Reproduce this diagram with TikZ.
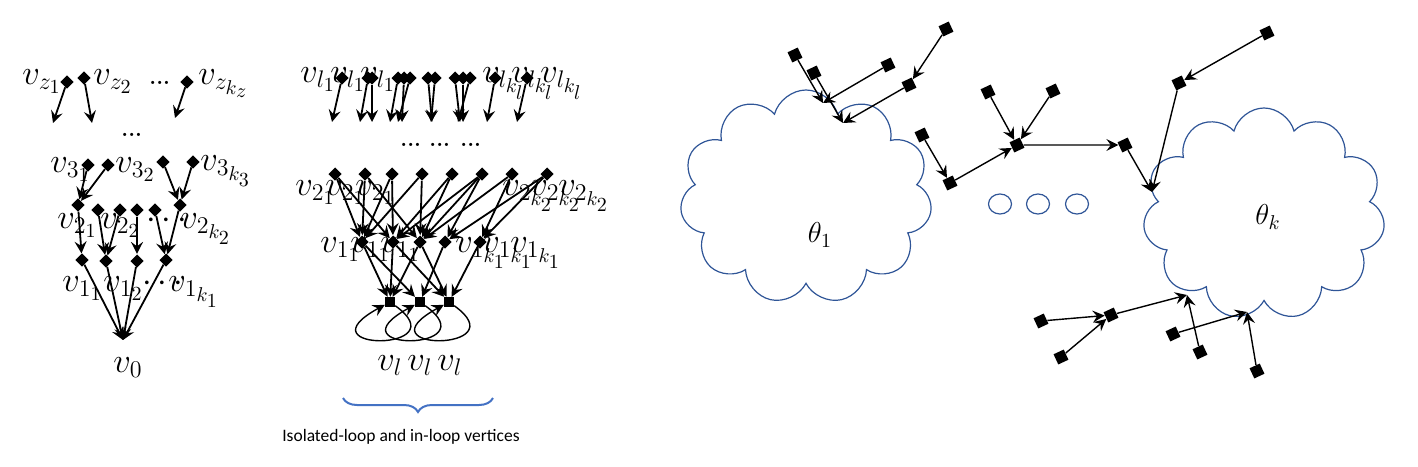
\documentclass[tikz,border=0pt]{standalone}
\usepackage{fontspec}
\newfontfamily\capfont{Carlito}
\usetikzlibrary{arrows.meta,shapes.symbols,decorations.pathreplacing}
\definecolor{cloudblue}{HTML}{2F5597}
\definecolor{braceblue}{HTML}{4472C4}

\tikzset{
  dm/.style={fill=black,minimum size=4.6pt,inner sep=0pt,rotate=45},
  sq/.style={fill=black,minimum size=5.6pt,inner sep=0pt,rotate=25},
  lsq/.style={fill=black,minimum size=4.8pt,inner sep=0pt},
  arr/.style={-{Stealth[length=6pt,width=6pt,inset=2.2pt]},line width=0.9pt},
  arrs/.style={-{Stealth[length=6pt,width=6pt,inset=2.2pt]},line width=0.7pt},
  lbl/.style={anchor=base west,inner sep=0pt,font=\fontsize{17.28}{20}\selectfont},
  dots/.style={anchor=base west,inner sep=0pt,font=\bfseries\fontsize{11}{13}\selectfont},
  puff/.style={cloud,cloud puffs=11,cloud ignores aspect,draw=cloudblue,line width=0.6pt}
}

\begin{document}
\begin{tikzpicture}[x=0.5pt,y=-0.5pt]
\useasboundingbox (0,0) rectangle (1418,466);

% left tree
\node[dm] (z1) at (67,82) {};
\node[dm] (z2) at (84,78) {};
\node[dm] (zk) at (187,82) {};
\coordinate (z1e) at (53,123);
\coordinate (z2e) at (92,123);
\coordinate (zke) at (175,118);
\draw[arr] (z1) -- (z1e);
\draw[arr] (z2) -- (z2e);
\draw[arr] (zk) -- (zke);
\foreach \i/\x/\y in {1/88/165, 2/108/165, 3/163/162, 4/193/162}
  \node[dm] (a\i) at (\x,\y) {};
\foreach \i/\x/\y in {1/78/205, 2/98/210, 3/120/210, 4/137/210, 5/155/210, 6/180/205}
  \node[dm] (b\i) at (\x,\y) {};
\foreach \i/\x/\y in {1/82/260, 2/106/261, 3/137/261, 4/166/260}
  \node[dm] (c\i) at (\x,\y) {};
\coordinate (v0) at (123,340);
\foreach \a/\b in {1/1, 2/1, 3/6, 4/6}
  \draw[arr] (a\a) -- (b\b);
\foreach \a/\b in {1/1, 2/2, 3/2, 4/3, 5/4, 6/4}
  \draw[arr] (b\a) -- (c\b);
\foreach \a in {1,...,4}
  \draw[arr] (c\a) -- (v0);

\node[lbl] (lz1) at (22,84) {$v_{z_1}$};
\node[lbl] (lz2) at (93,84) {$v_{z_2}$};
\node[dots] (lzd) at (149,84) {...};
\node[lbl] (lzk) at (198,84) {$v_{z_{k_z}}$};
\node[dots] (ld) at (121,136) {...};
\node[lbl] (l31) at (50,172) {$v_{3_1}$};
\node[lbl] (l32) at (115,172) {$v_{3_2}$};
\node[lbl] (l3k) at (200,170) {$v_{3_{k_3}}$};
\node[lbl] (l21) at (57,228) {$v_{2_1}$};
\node[lbl] (l22) at (100,228) {$v_{2_2}$};
\node[lbl] (l2d) at (146,228) {$\cdots$};
\node[lbl] (l2k) at (180,228) {$v_{2_{k_2}}$};
\node[lbl] (l11) at (62,291) {$v_{1_1}$};
\node[lbl] (l12) at (103,291) {$v_{1_2}$};
\node[lbl] (l1d) at (142,291) {$\cdots$};
\node[lbl] (l1k) at (168,291) {$v_{1_{k_1}}$};
\node[lbl] (lv0) at (113,372) {$v_0$};

% middle tree
\foreach \i/\x/\e in {1/342/332, 2/368/360, 3/372/372, 4/398/390, 5/404/402, 6/410/398,
    7/428/432, 8/435/431, 9/455/460, 10/463/463, 11/470/458, 12/495/487, 13/527/517}{
  \node[dm] (m\i) at (\x,78) {};
  \coordinate (me\i) at (\e,122);
  \draw[arr] (m\i) -- (me\i);
}
\foreach \i/\x in {1/300, 2/330, 3/360}
  \node[lbl] (ll\i) at (\x,82) {$v_{l_1}$};
\foreach \i/\x in {1/482, 2/511, 3/540}
  \node[lbl] (lk\i) at (\x,82) {$v_{l_{k_l}}$};
\foreach \i/\x in {1/400, 2/429, 3/460}
  \node[dots] (md\i) at (\x,146) {...};

\foreach \i/\x in {1/335, 2/365, 3/392, 4/422, 5/452, 6/482, 7/512, 8/547}
  \node[dm] (p\i) at (\x,174) {};
\foreach \i/\x in {1/362, 2/393, 3/420, 4/445, 5/480}
  \node[dm] (q\i) at (\x,242) {};
\foreach \a/\b in {1/1, 1/2, 2/1, 2/3, 3/1, 3/2, 4/1, 4/3, 5/2, 5/3, 6/2, 6/3, 6/4, 7/3, 7/5, 8/4, 8/5}
  \draw[arr] (p\a) -- (q\b);
\foreach \i/\x in {1/390, 2/420, 3/449}
  \node[lsq] (r\i) at (\x,302) {};
\foreach \a/\b in {1/1, 1/2, 2/1, 2/3, 3/1, 3/3, 4/2, 5/3}
  \draw[arr] (q\a) -- (r\b);
\foreach \i in {1,2,3}
  \draw[arrs] (r\i) .. controls +(70,50) and +(-92,50) .. (r\i);

\foreach \i/\x in {1/295, 2/325, 3/355}
  \node[lbl] (l2m\i) at (\x,195) {$v_{2_1}$};
\foreach \i/\x in {1/502, 2/530, 3/558}
  \node[lbl] (l2n\i) at (\x,195) {$v_{2_{k_2}}$};
\foreach \i/\x in {1/320, 2/350, 3/380}
  \node[lbl] (l1m\i) at (\x,252) {$v_{1_1}$};
\foreach \i/\x in {1/455, 2/482, 3/510}
  \node[lbl] (l1n\i) at (\x,252) {$v_{1_{k_1}}$};
\foreach \i/\x in {1/377, 2/407, 3/437}
  \node[lbl] (lvl\i) at (\x,370) {$v_l$};

\draw[braceblue,line width=1pt,decorate,decoration={brace,mirror,amplitude=7pt}]
  (343,398) -- (493,398);
\node[font=\capfont\fontsize{8.75}{10}\selectfont] (cap) at (401,437) {Isolated-loop and in-loop vertices};

% clouds
\node[puff,minimum width=126pt,minimum height=107pt] (cl1) at (806,197) {};
\node[puff,minimum width=121pt,minimum height=106pt] (clk) at (1264,214) {};
\node[font=\fontsize{14.4}{17}\selectfont] (th1) at (820,235) {$\theta_1$};
\node[font=\fontsize{14.4}{17}\selectfont] (thk) at (1268,217) {$\theta_k$};
\foreach \i/\x in {1/1000, 2/1038, 3/1077}
  \draw[cloudblue,line width=0.6pt] (\x,204) ellipse (11.5 and 10);

% right graph
\coordinate (t1) at (823,103);
\coordinate (t2) at (843,123);
\coordinate (tk1) at (1152,192);
\coordinate (tk2) at (1187,295);
\coordinate (tk3) at (1247,312);
\foreach \n/\x/\y in {A/795/55, B/814/73, C/888/65, D/946/29, E/909/85, F/922/135, G/950/183,
    H/988/92, I/1017/145, J/1053/91, K/1125/145, L/1267/33, M/1179/83, N/1041/321,
    O/1111/315, P/1061/357, Q/1173/334, R/1200/352, S/1257/371}
  \node[sq] (\n) at (\x,\y) {};
\draw[arrs] (A) -- (t1);
\draw[arrs] (C) -- (t1);
\draw[arrs] (B) -- (t2);
\draw[arrs] (E) -- (t2);
\draw[arrs] (D) -- (E);
\draw[arrs] (F) -- (G);
\draw[arrs] (G) -- (I);
\draw[arrs] (H) -- (I);
\draw[arrs] (J) -- (I);
\draw[arrs] (I) -- (K);
\draw[arrs] (K) -- (tk1);
\draw[arrs] (L) -- (M);
\draw[arrs] (M) -- (tk1);
\draw[arrs] (N) -- (O);
\draw[arrs] (P) -- (O);
\draw[arrs] (O) -- (tk2);
\draw[arrs] (R) -- (tk2);
\draw[arrs] (Q) -- (tk3);
\draw[arrs] (S) -- (tk3);
\end{tikzpicture}
\end{document}
